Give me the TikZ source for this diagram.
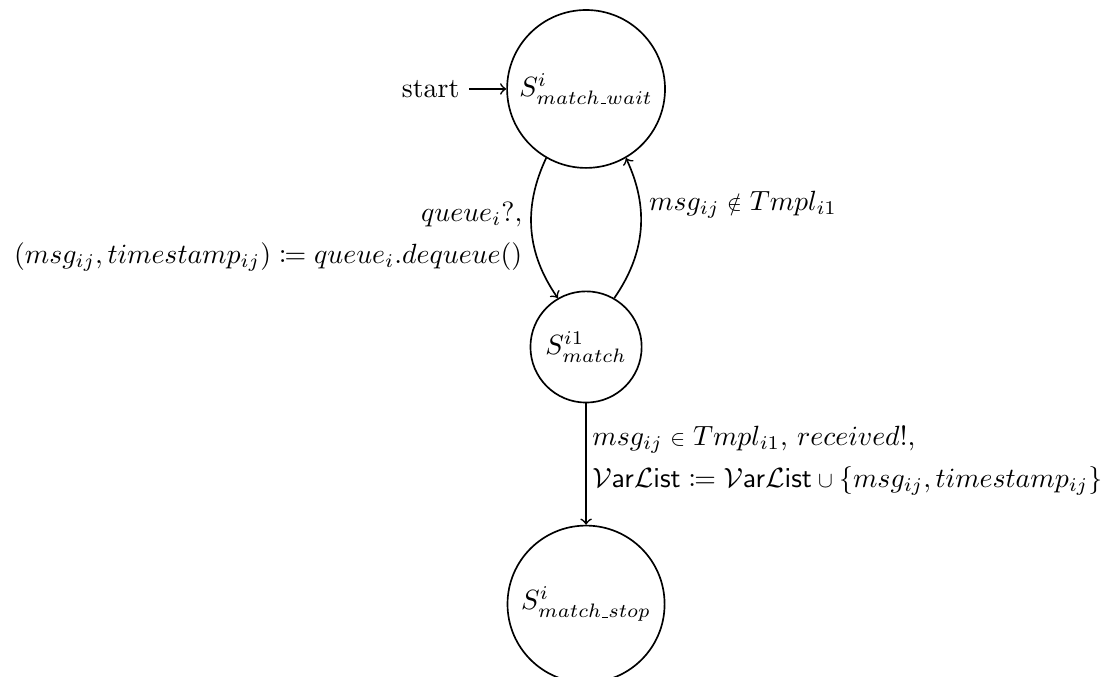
\documentclass[tikz,border=0pt]{standalone}
\usepackage{amsmath,amssymb,mathtools}
\newcommand{\usc}{\text{\kern.06em\vbox{\hrule width.3em}}}
\newcommand{\smallelem}{\mathrel{\text{\scalebox{0.8}{$\in$}}}}
\newcommand{\snotelem}{\mathrel{\text{\scalebox{0.8}{$\notin$}}}}
\newcommand{\scupop}{\mathbin{\text{\scalebox{0.8}{$\cup$}}}}
\begin{document}
\begin{tikzpicture}[x=1pt,y=1pt, semithick, >=to,
  statenode/.style={circle, draw, inner sep=1pt},
  lbl/.style={inner sep=3pt}]
\useasboundingbox (-210.8,-211.2) rectangle (189.9,32);
\node[statenode, minimum size=56.8pt] (wait) at (0,0) {$S^i_{match\usc wait}$};
\node[statenode, minimum size=40pt] (match) at (0,-92.8) {$S^{i1}_{match}$};
\node[statenode, minimum size=56.5pt] (stop) at (0,-185.3) {$S^i_{match\usc stop}$};
\node (start) at (-55.9,0) {start};
\draw[->] (start) -- (wait);
\draw[->] (wait) to[bend right=30] node[lbl, left, align=right, yshift=-2.5pt] {$queue_i?,$\\[3pt]$(msg_{ij}, timestamp_{ij}) \coloneqq queue_i.dequeue()$} (match);
\draw[->] (match) to[bend right=30] node[lbl, pos=0.68, right] {$msg_{ij} \snotelem Tmpl_{i1}$} (wait);
\draw[->] (match) -- node[lbl, right, align=left, yshift=1.2pt, xshift=-1pt] {$msg_{ij} \smallelem Tmpl_{i1}$, $received!$,\\[3pt]$\mathcal{V}\mathsf{ar}\mathcal{L}\mathsf{ist} \coloneqq \mathcal{V}\mathsf{ar}\mathcal{L}\mathsf{ist} \scupop \{msg_{ij}, timestamp_{ij}\}$} (stop);
\end{tikzpicture}
\end{document}
